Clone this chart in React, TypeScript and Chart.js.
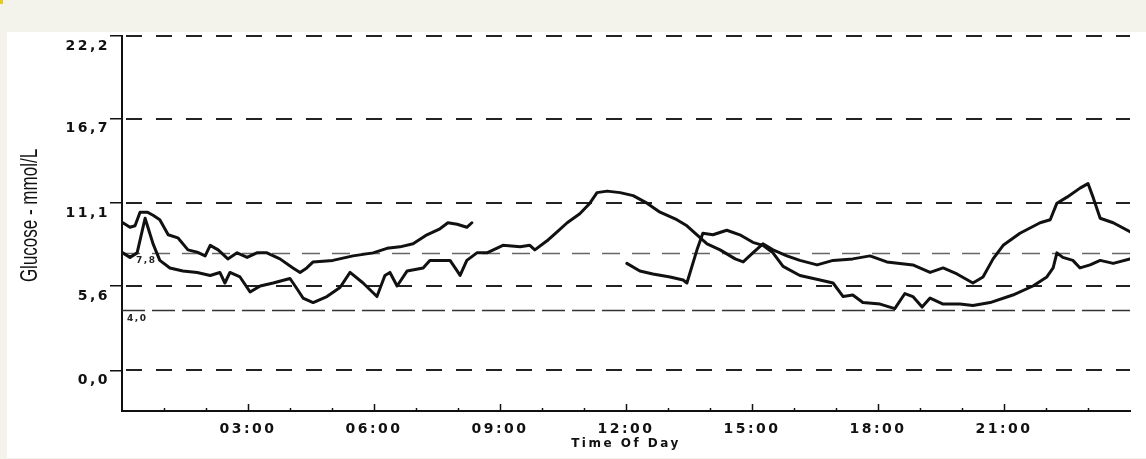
import React, { useEffect, useRef } from 'react';
import { Chart, registerables } from 'chart.js';

Chart.register(...registerables);

// ---- Data (hours of day, glucose mmol/L) ----
const HOURS_A = [0.02, 0.19, 0.31, 0.43, 0.6, 0.74, 0.9, 1.1, 1.33, 1.57, 1.79, 1.98, 2.1, 2.29, 2.52, 2.74, 2.98, 3.21, 3.45, 3.76, 4.07, 4.24, 4.4, 4.55, 5.02, 5.5, 5.98, 6.31, 6.62, 6.93, 7.26, 7.57, 7.76, 7.98, 8.21, 8.33];
const GLUCOSE_A = [9.8, 9.5, 9.6, 10.5, 10.5, 10.3, 10.0, 9.0, 8.8, 8.0, 7.85, 7.6, 8.3, 8.0, 7.4, 7.8, 7.5, 7.8, 7.8, 7.4, 6.8, 6.5, 6.8, 7.2, 7.3, 7.6, 7.8, 8.1, 8.2, 8.4, 9.0, 9.4, 9.8, 9.7, 9.5, 9.8];

const HOURS_B = [0.02, 0.19, 0.36, 0.55, 0.74, 0.9, 1.14, 1.45, 1.79, 2.1, 2.33, 2.45, 2.57, 2.81, 3.05, 3.29, 3.6, 4.0, 4.17, 4.31, 4.55, 4.88, 5.19, 5.43, 5.74, 6.07, 6.26, 6.38, 6.55, 6.79, 7.17, 7.33, 7.81, 7.98, 8.05, 8.21, 8.45, 8.69, 9.07, 9.48, 9.71, 9.83, 10.12, 10.36, 10.6, 10.9, 11.14, 11.31, 11.55, 11.86, 12.17, 12.5, 12.81, 13.21, 13.45, 13.69, 13.93, 14.24, 14.6, 14.79, 15.02, 15.26, 15.5, 15.83, 16.14, 16.55, 16.93, 17.4, 17.81, 18.21, 18.83, 19.24, 19.55, 19.88, 20.26, 20.5, 20.74, 20.98, 21.38, 21.86, 22.1, 22.26, 22.5, 22.81, 23.0, 23.12, 23.29, 23.6, 24.0];
const GLUCOSE_B = [7.8, 7.5, 7.8, 10.1, 8.4, 7.3, 6.8, 6.6, 6.5, 6.3, 6.5, 5.8, 6.5, 6.2, 5.2, 5.6, 5.8, 6.1, 5.4, 4.8, 4.5, 4.9, 5.5, 6.5, 5.8, 4.9, 6.3, 6.5, 5.6, 6.6, 6.8, 7.3, 7.3, 6.6, 6.3, 7.3, 7.8, 7.8, 8.3, 8.2, 8.3, 8.0, 8.6, 9.2, 9.8, 10.4, 11.1, 11.8, 11.9, 11.8, 11.6, 11.1, 10.5, 10.0, 9.6, 9.0, 8.4, 8.0, 7.4, 7.2, 7.8, 8.4, 8.0, 7.6, 7.3, 7.0, 7.3, 7.4, 7.6, 7.2, 7.0, 6.5, 6.8, 6.4, 5.8, 6.2, 7.4, 8.3, 9.1, 9.8, 10.0, 11.1, 11.5, 12.1, 12.4, 11.5, 10.1, 9.8, 9.2];

const HOURS_C = [12.02, 12.33, 12.64, 13.05, 13.36, 13.45, 13.69, 13.83, 14.07, 14.4, 14.71, 15.02, 15.26, 15.5, 15.74, 16.14, 16.62, 16.93, 17.17, 17.4, 17.64, 18.05, 18.4, 18.64, 18.83, 19.05, 19.24, 19.55, 19.95, 20.26, 20.67, 21.21, 21.69, 22.02, 22.17, 22.26, 22.4, 22.64, 22.81, 23.05, 23.29, 23.6, 24.0];
const GLUCOSE_C = [7.1, 6.6, 6.4, 6.2, 6.0, 5.8, 8.0, 9.1, 9.0, 9.3, 9.0, 8.5, 8.3, 7.8, 6.9, 6.3, 6.0, 5.8, 4.9, 5.0, 4.5, 4.4, 4.1, 5.1, 4.9, 4.2, 4.8, 4.4, 4.4, 4.3, 4.5, 5.0, 5.6, 6.2, 6.8, 7.8, 7.5, 7.3, 6.8, 7.0, 7.3, 7.1, 7.4];

const SERIES_NAMES = ['Day 1', 'Day 2', 'Day 3'];

// ---- Axes ----
const Y_TICKS = [0, 5.6, 11.1, 16.7, 22.2];
const Y_TICK_LABELS = ['0,0', '5,6', '11,1', '16,7', '22,2'];
const X_TICKS = [3, 6, 9, 12, 15, 18, 21];
const X_TICK_LABELS = ['03:00', '06:00', '09:00', '12:00', '15:00', '18:00', '21:00'];
const HOUR_MARKS = [1, 2, 3, 4, 5, 6, 7, 8, 9, 10, 11, 12, 13, 14, 15, 16, 17, 18, 19, 20, 21, 22, 23];
const Y_TITLE = 'Glucose - mmol/L';
const X_TITLE = 'Time Of Day';

// ---- Reference lines ----
const MAJOR_LINES = [0, 5.6, 11.1, 16.7, 22.2];
const TARGET_LINES = [4.0, 7.8];
const TARGET_LABELS = ['4,0', '7,8'];

const FONT = "'DejaVu Sans', sans-serif";
const SPACING = '2.5px';

const toPoints = (hours: number[], vals: number[]) => hours.map((h, i) => ({ x: h, y: vals[i] }));

const decor = {
  id: 'decor',
  beforeUpdate(chart: any) {
    chart.ctx.letterSpacing = SPACING;
  },
  beforeDraw(chart: any) {
    chart.ctx.letterSpacing = SPACING;
  },
  beforeDatasetsDraw(chart: any) {
    const { ctx, chartArea, scales } = chart;
    const y = scales.y;
    ctx.save();
    MAJOR_LINES.forEach((v) => {
      const py = Math.round(y.getPixelForValue(v));
      ctx.setLineDash([16, 14]);
      ctx.lineWidth = 2.2;
      ctx.strokeStyle = '#222';
      ctx.beginPath();
      ctx.moveTo(chartArea.left + 4, py);
      ctx.lineTo(chartArea.right, py);
      ctx.stroke();
    });
    {
      const py = Math.round(y.getPixelForValue(TARGET_LINES[0])) + 0.5;
      ctx.setLineDash([23, 7]);
      ctx.lineWidth = 1.5;
      ctx.strokeStyle = '#333';
      ctx.beginPath();
      ctx.moveTo(chartArea.left, py);
      ctx.lineTo(chartArea.right, py);
      ctx.stroke();
    }
    {
      const py = Math.round(y.getPixelForValue(TARGET_LINES[1])) + 0.5;
      ctx.setLineDash([18, 12]);
      ctx.lineWidth = 1.3;
      ctx.strokeStyle = '#666';
      ctx.beginPath();
      ctx.moveTo(chartArea.left, py);
      ctx.lineTo(chartArea.right, py);
      ctx.stroke();
    }
    ctx.restore();
  },
  afterDraw(chart: any) {
    const { ctx, chartArea, scales } = chart;
    const x = scales.x;
    const y = scales.y;
    ctx.save();
    ctx.setLineDash([]);
    ctx.strokeStyle = '#111';
    ctx.lineWidth = 1.5;
    HOUR_MARKS.forEach((h) => {
      const px = Math.round(x.getPixelForValue(h)) + 0.5;
      const len = h % 3 === 0 ? 7 : 3;
      ctx.beginPath();
      ctx.moveTo(px, chartArea.bottom);
      ctx.lineTo(px, chartArea.bottom - len);
      ctx.stroke();
    });
    ctx.letterSpacing = '1.5px';
    ctx.fillStyle = '#222';
    ctx.font = `bold 9px ${FONT}`;
    ctx.textAlign = 'left';
    ctx.textBaseline = 'alphabetic';
    ctx.fillText(TARGET_LABELS[0], x.getPixelForValue(0) + 5, y.getPixelForValue(TARGET_LINES[0]) + 11);
    ctx.fillText(TARGET_LABELS[1], x.getPixelForValue(0) + 14, y.getPixelForValue(TARGET_LINES[1]) + 10);
    ctx.letterSpacing = '0px';
    ctx.font = `17px 'Liberation Sans', Arial, sans-serif`;
    ctx.fillStyle = '#111';
    ctx.textAlign = 'center';
    ctx.textBaseline = 'alphabetic';
    ctx.translate(37, (chartArea.top + chartArea.bottom) / 2 - 8);
    ctx.scale(1.45, 1);
    ctx.rotate(-Math.PI / 2);
    ctx.fillText(Y_TITLE, 0, 0);
    ctx.restore();
  },
};

export default function App() {
  const ref = useRef<HTMLCanvasElement>(null);

  useEffect(() => {
    const prev = document.body.style.margin;
    document.body.style.margin = '0';
    const lineStyle = {
      borderColor: '#111',
      borderWidth: 3,
      pointRadius: 0,
      fill: false,
      tension: 0,
      borderJoinStyle: 'round' as const,
      borderCapStyle: 'round' as const,
    };
    const chart = new Chart(ref.current as HTMLCanvasElement, {
      type: 'line',
      data: {
        datasets: [
          { label: SERIES_NAMES[0], data: toPoints(HOURS_A, GLUCOSE_A), ...lineStyle },
          { label: SERIES_NAMES[1], data: toPoints(HOURS_B, GLUCOSE_B), ...lineStyle },
          { label: SERIES_NAMES[2], data: toPoints(HOURS_C, GLUCOSE_C), ...lineStyle },
        ],
      },
      options: {
        animation: false,
        responsive: false,
        devicePixelRatio: 1,
        layout: { padding: { left: 0, right: 16, top: 36, bottom: 0 } },
        plugins: { legend: { display: false }, tooltip: { enabled: false } },
        scales: {
          x: {
            type: 'linear',
            min: 0,
            max: 24,
            afterBuildTicks: (s: any) => {
              s.ticks = X_TICKS.map((v) => ({ value: v }));
            },
            afterFit: (s: any) => {
              s.height = 48;
            },
            ticks: {
              autoSkip: false,
              maxRotation: 0,
              padding: 10,
              color: '#111',
              font: { family: FONT, weight: 'bold', size: 14 },
              callback: (v: any) => {
                const i = X_TICKS.indexOf(Number(v));
                return i >= 0 ? X_TICK_LABELS[i] : '';
              },
            },
            grid: { display: false, drawTicks: false, tickLength: 0 },
            border: { display: true, color: '#111', width: 2 },
            title: {
              display: true,
              text: X_TITLE,
              color: '#111',
              font: { family: FONT, weight: 'bold', size: 12 },
              padding: { top: 0, bottom: 8 },
            },
          },
          y: {
            type: 'linear',
            min: -2.7,
            max: 22.2,
            afterBuildTicks: (s: any) => {
              s.ticks = Y_TICKS.map((v) => ({ value: v }));
            },
            afterFit: (s: any) => {
              s.width = 122;
            },
            ticks: {
              autoSkip: false,
              padding: 0,
              labelOffset: 10,
              color: '#111',
              font: { family: FONT, weight: 'bold', size: 14 },
              callback: (v: any) => {
                const i = Y_TICKS.indexOf(Number(v));
                return i >= 0 ? Y_TICK_LABELS[i] : '';
              },
            },
            grid: { display: true, drawOnChartArea: false, drawTicks: true, tickLength: 12, color: '#111', lineWidth: 1.5 },
            border: { display: true, color: '#111', width: 2 },
          },
        },
      },
      plugins: [decor],
    } as any);
    return () => {
      chart.destroy();
      document.body.style.margin = prev;
    };
  }, []);

  return (
    <div style={{ position: 'fixed', left: 0, top: 0, width: 1146, height: 459, background: '#f3f3ec', overflow: 'hidden' }}>
      <div style={{ position: 'absolute', left: 7, top: 32, width: 1139, height: 426, background: '#ffffff' }} />
      <div style={{ position: 'absolute', left: 0, top: 0, width: 3, height: 4, background: '#e6cc1a' }} />
      <canvas ref={ref} width={1146} height={459} style={{ position: 'absolute', left: 0, top: 0 }} />
    </div>
  );
}
